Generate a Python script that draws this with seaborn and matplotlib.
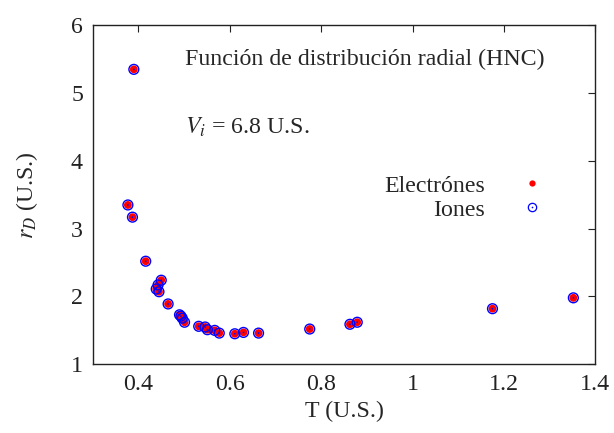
import numpy as np
import pandas as pd
import matplotlib
matplotlib.use("Agg")
import matplotlib.pyplot as plt
import seaborn as sns
from matplotlib.legend_handler import HandlerTuple
from matplotlib.lines import Line2D

T = [0.377, 0.387, 0.390, 0.416, 0.450, 0.443, 0.439, 0.445, 0.465, 0.490, 0.493,
     0.496, 0.501, 0.532, 0.546, 0.551, 0.567, 0.577, 0.611, 0.630, 0.663, 0.775,
     0.863, 0.879, 1.175, 1.352]
rD = [3.35, 3.17, 5.35, 2.52, 2.24, 2.17, 2.11, 2.07, 1.89, 1.73, 1.71,
      1.68, 1.62, 1.56, 1.55, 1.51, 1.50, 1.46, 1.45, 1.47, 1.46, 1.52,
      1.59, 1.62, 1.82, 1.98]
xticks = [0.4, 0.6, 0.8, 1.0, 1.2, 1.4]
xticklabels = ["0.4", "0.6", "0.8", "1", "1.2", "1.4"]
yticks = [1, 2, 3, 4, 5, 6]

df = pd.DataFrame({"T": T, "rD": rD})

sns.set_style("white")
plt.rcParams["font.family"] = ["Liberation Serif", "DejaVu Serif"]
plt.rcParams["mathtext.fontset"] = "stix"

FS = 17.2

fig = plt.figure(figsize=(6.14, 4.33), dpi=100)
ax = fig.add_axes([0.151, 0.1587, 0.8185, 0.7829])

sns.scatterplot(data=df, x="T", y="rD", ax=ax, color="red", s=32,
                edgecolor="none", zorder=3, legend=False)
sns.scatterplot(data=df, x="T", y="rD", ax=ax, facecolor="none",
                edgecolor="blue", s=50, linewidth=1.0, zorder=4, legend=False)
sns.scatterplot(data=df, x="T", y="rD", ax=ax, color="blue", s=1.5,
                edgecolor="none", zorder=5, legend=False)

ax.set_xlim(0.3, 1.4)
ax.set_ylim(1, 6)
ax.set_xticks(xticks)
ax.set_xticklabels(xticklabels)
ax.set_yticks(yticks)
ax.tick_params(direction="in", length=5, width=0.8, top=True, right=True,
               labelsize=FS, pad=7, colors="#222222")
for sp in ax.spines.values():
    sp.set_linewidth(1.0)
    sp.set_color("#222222")

ax.set_xlabel("T (U.S.)", fontsize=FS, labelpad=4)
ax.set_ylabel(r"$r_D$ (U.S.)", fontsize=FS, labelpad=22)

ax.text(0.184, 0.898, "Función de distribución radial (HNC)", transform=ax.transAxes,
        ha="left", va="center", fontsize=FS)
ax.text(0.184, 0.700, r"$V_i$ = 6.8 U.S.", transform=ax.transAxes,
        ha="left", va="center", fontsize=FS)

h_e = Line2D([], [], marker="o", linestyle="none", color="red",
             markeredgecolor="none", markersize=4.5)
h_i1 = Line2D([], [], marker="o", linestyle="none", markerfacecolor="none",
              markeredgecolor="blue", markersize=6, markeredgewidth=0.9)
h_i2 = Line2D([], [], marker="o", linestyle="none", color="blue",
              markeredgecolor="none", markersize=1.2)
ax.legend([h_e, (h_i1, h_i2)], ["Electrónes", "Iones"],
          handler_map={tuple: HandlerTuple(ndivide=1, pad=0)},
          loc="upper right", bbox_to_anchor=(0.958, 0.594), frameon=False,
          markerfirst=False, fontsize=FS, handlelength=2.5, handletextpad=0.75,
          labelspacing=0.1, borderpad=0)

fig.savefig("out.png", dpi=100)
